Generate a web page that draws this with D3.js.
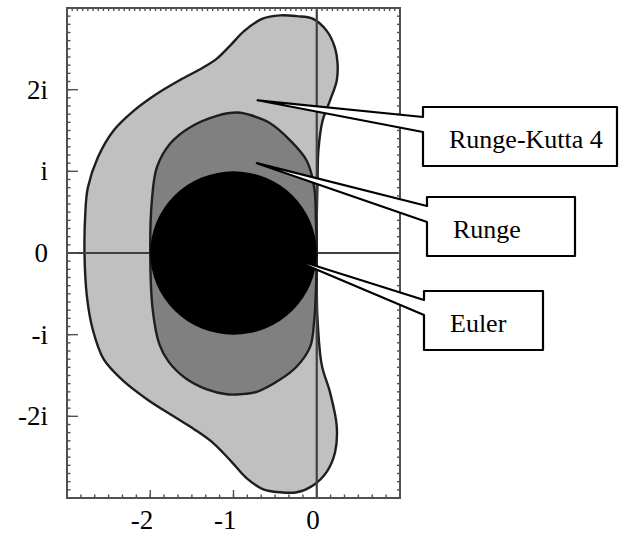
<!DOCTYPE html>
<html>
<head>
<meta charset="utf-8">
<script src="https://cdn.jsdelivr.net/npm/d3@7"></script>
<style>
  body { margin: 0; background: #fff; }
  text { font-family: "Liberation Serif", "Times New Roman", serif; }
</style>
</head>
<body>
<div id="viz"></div>
<script>
// boundary points, [re, im]
const rk4Boundary = [
  [0, 0], [0, 0.40], [0.01, 0.89], [0.02, 1.26], [0.07, 1.62], [0.16, 1.87],
  [0.24, 2.11], [0.25, 2.32], [0.22, 2.51], [0.12, 2.72], [-0.05, 2.87],
  [-0.24, 2.90], [-0.44, 2.91], [-0.65, 2.87], [-0.87, 2.72], [-1.04, 2.54],
  [-1.20, 2.38], [-1.40, 2.25], [-1.64, 2.12], [-1.92, 1.95], [-2.20, 1.74],
  [-2.44, 1.50], [-2.63, 1.17], [-2.75, 0.80], [-2.78, 0.49], [-2.79, 0],
  [-2.76, -0.54], [-2.69, -0.94], [-2.56, -1.30], [-2.34, -1.55], [-2.04, -1.79],
  [-1.72, -2.00], [-1.47, -2.16], [-1.24, -2.33], [-1.02, -2.56], [-0.84, -2.76],
  [-0.65, -2.89], [-0.44, -2.93], [-0.24, -2.93], [-0.05, -2.85], [0.12, -2.68],
  [0.22, -2.44], [0.24, -2.12], [0.16, -1.71], [0.06, -1.37], [0.01, -0.82],
  [0, -0.45]
]

const rungeBoundary = [
  [0, 0], [-0.01, 0.40], [-0.03, 0.80], [-0.12, 1.13], [-0.32, 1.38],
  [-0.56, 1.59], [-0.80, 1.69], [-0.95, 1.72], [-1.20, 1.68], [-1.52, 1.54],
  [-1.76, 1.34], [-1.92, 1.05], [-1.98, 0.65], [-2.00, 0], [-1.97, -0.70],
  [-1.89, -1.12], [-1.78, -1.33], [-1.58, -1.53], [-1.32, -1.67], [-1.08, -1.73],
  [-0.92, -1.73], [-0.72, -1.70], [-0.44, -1.55], [-0.24, -1.39], [-0.08, -1.15],
  [-0.03, -0.82], [-0.01, -0.45]
]

const eulerCenter = [-1, 0]
const eulerRadius = 1

const xTickValues = [-2, -1, 0]
const xTickLabels = ['-2', '-1', '0']
const yTickValues = [2, 1, 0, -1, -2]
const yTickLabels = ['2i', 'i', '0', '-i', '-2i']

const calloutNames = ['Runge-Kutta 4', 'Runge', 'Euler']
const calloutTips = [[-0.71, 1.87], [-0.72, 1.10], [-0.38, -0.04]]

// layout
var width = 620, height = 536
var frame = { left: 67, right: 400, top: 8, bottom: 498 }

var svg = d3
  .select('#viz')
  .append('svg')
  .attr('width', width)
  .attr('height', height)

svg.append('rect').attr('width', width).attr('height', height).attr('fill', '#fff')

var x = d3.scaleLinear().domain([-3, 1]).range([frame.left, frame.right])
var y = d3.scaleLinear().domain([-3, 3]).range([frame.bottom, frame.top])

var line = d3
  .line()
  .x(function(d) { return x(d[0]) })
  .y(function(d) { return y(d[1]) })
  .curve(d3.curveCatmullRomClosed.alpha(0.5))

// Runge-Kutta 4 region
svg
  .append('path')
  .attr('d', line(rk4Boundary))
  .attr('fill', '#c0c0c0')
  .attr('stroke', '#1e1e1e')
  .attr('stroke-width', 2.4)

// real and imaginary axes
svg
  .append('line')
  .attr('x1', frame.left).attr('x2', frame.right)
  .attr('y1', y(0)).attr('y2', y(0))
  .attr('stroke', '#404040')
  .attr('stroke-width', 2)
svg
  .append('line')
  .attr('x1', x(0)).attr('x2', x(0))
  .attr('y1', frame.top).attr('y2', frame.bottom)
  .attr('stroke', '#404040')
  .attr('stroke-width', 2.2)

// Runge region
svg
  .append('path')
  .attr('d', line(rungeBoundary))
  .attr('fill', '#808080')
  .attr('stroke', '#1e1e1e')
  .attr('stroke-width', 2.4)

// Euler disc
svg
  .append('ellipse')
  .attr('cx', x(eulerCenter[0]))
  .attr('cy', y(eulerCenter[1]))
  .attr('rx', x(eulerCenter[0] + eulerRadius) - x(eulerCenter[0]))
  .attr('ry', y(eulerCenter[1]) - y(eulerCenter[1] + eulerRadius))
  .attr('fill', '#000')

// frame with ticks
var frameColor = '#505050'
svg
  .append('rect')
  .attr('x', frame.left).attr('y', frame.top)
  .attr('width', frame.right - frame.left)
  .attr('height', frame.bottom - frame.top)
  .attr('fill', 'none')
  .attr('stroke', frameColor)
  .attr('stroke-width', 2)

var ticks = svg.append('g').attr('stroke', frameColor).attr('stroke-width', 1.4)

// minor ticks
d3.range(-3, 1.001, 1 / 16).forEach(function(v) {
  ticks.append('line').attr('x1', x(v)).attr('x2', x(v))
    .attr('y1', frame.top).attr('y2', frame.top + 3)
})
d3.range(-3, 1.001, 1 / 6).forEach(function(v) {
  ticks.append('line').attr('x1', x(v)).attr('x2', x(v))
    .attr('y1', frame.bottom).attr('y2', frame.bottom - 3.5)
})
d3.range(-3, 3.001, 0.1).forEach(function(v) {
  ticks.append('line').attr('x1', frame.left).attr('x2', frame.left + 3.5)
    .attr('y1', y(v)).attr('y2', y(v))
  ticks.append('line').attr('x1', frame.right).attr('x2', frame.right - 3)
    .attr('y1', y(v)).attr('y2', y(v))
})

// major ticks
xTickValues.forEach(function(v) {
  ticks.append('line').attr('x1', x(v)).attr('x2', x(v))
    .attr('y1', frame.bottom).attr('y2', frame.bottom - 8)
})
yTickValues.forEach(function(v) {
  ticks.append('line').attr('x1', frame.left).attr('x2', frame.left + 11)
    .attr('y1', y(v)).attr('y2', y(v))
})

// tick labels
svg
  .selectAll('.xlab')
  .data(xTickValues)
  .enter()
  .append('text')
  .attr('x', function(d) { return x(d) + 3 })
  .attr('y', 529)
  .attr('text-anchor', 'end')
  .attr('font-size', 27)
  .text(function(d, i) { return xTickLabels[i] })

svg
  .selectAll('.ylab')
  .data(yTickValues)
  .enter()
  .append('text')
  .attr('x', 48)
  .attr('y', function(d) { return y(d) + 9 })
  .attr('text-anchor', 'end')
  .attr('font-size', 27)
  .text(function(d, i) { return yTickLabels[i] })

// callout boxes (left, top, right, bottom, wedge top, wedge bottom)
var boxes = [
  [423, 107, 617, 166, 117, 132],
  [427, 197, 575, 256, 206, 222],
  [424, 291, 543, 350, 300, 315]
]

calloutNames.forEach(function(name, i) {
  var b = boxes[i]
  var tip = calloutTips[i]
  var p = d3.path()
  p.moveTo(x(tip[0]), y(tip[1]))
  p.lineTo(b[0], b[4])
  p.lineTo(b[0], b[1])
  p.lineTo(b[2], b[1])
  p.lineTo(b[2], b[3])
  p.lineTo(b[0], b[3])
  p.lineTo(b[0], b[5])
  p.closePath()
  svg
    .append('path')
    .attr('d', p.toString())
    .attr('fill', '#fff')
    .attr('stroke', '#000')
    .attr('stroke-width', 2.2)
    .attr('stroke-linejoin', 'round')
  svg
    .append('text')
    .attr('x', b[0] + 26)
    .attr('y', (b[1] + b[3]) / 2 + 11)
    .attr('font-size', 26)
    .text(name)
})
</script>
</body>
</html>
